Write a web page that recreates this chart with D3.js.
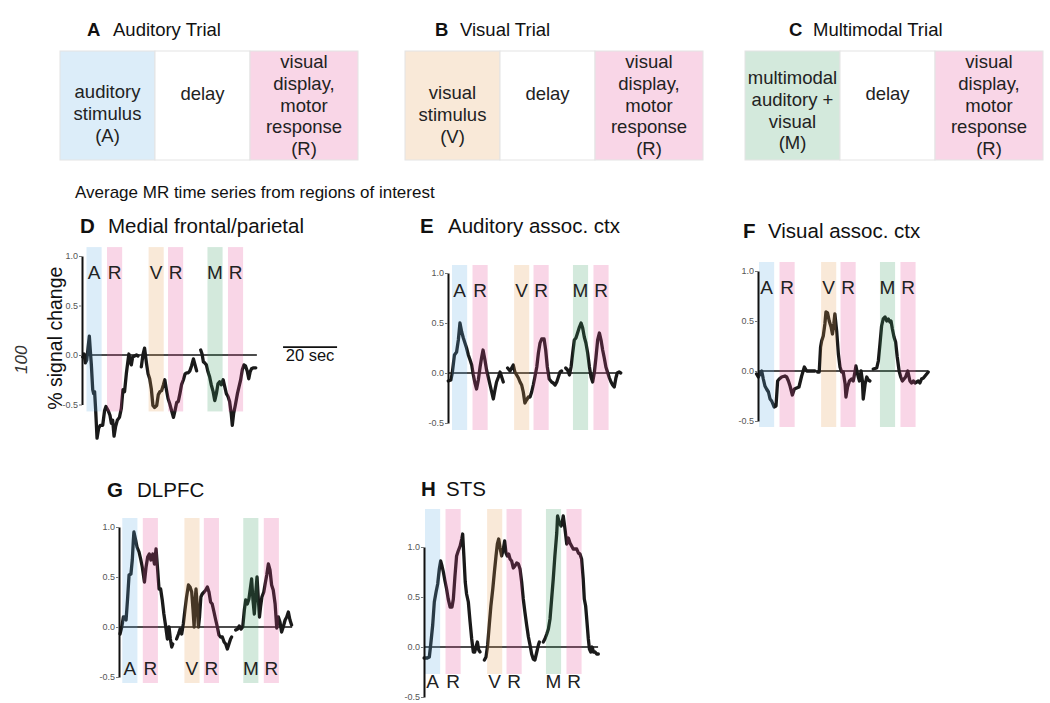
<!DOCTYPE html>
<html>
<head>
<meta charset="utf-8">
<script src="https://cdn.jsdelivr.net/npm/d3@7"></script>
<style>
  body { margin: 0; background: #fff; }
  text { font-family: "Liberation Sans", Arial, Helvetica, sans-serif; }
</style>
</head>
<body>
<script>
// trial diagrams (A-C)
const trialLetters = ["A", "B", "C"]
const trialNames = ["Auditory Trial", "Visual Trial", "Multimodal Trial"]
const trialBoxKinds = [["aud", "delay", "resp"], ["vis", "delay", "resp"], ["multi", "delay", "resp"]]
const trialBoxLines = [
  [["auditory", "stimulus", "(A)"], ["delay"], ["visual", "display,", "motor", "response", "(R)"]],
  [["visual", "stimulus", "(V)"], ["delay"], ["visual", "display,", "motor", "response", "(R)"]],
  [["multimodal", "auditory +", "visual", "(M)"], ["delay"], ["visual", "display,", "motor", "response", "(R)"]]
]

// event bands, seconds from auditory onset
const bandLabels = ["A", "R", "V", "R", "M", "R"]
const bandKinds = ["aud", "resp", "vis", "resp", "multi", "resp"]
const bandOnsets = [0, 7.6, 23, 30.2, 44.8, 52.4]
const bandDuration = 5.6
const yTicks = [-0.5, 0, 0.5, 1.0]

// time series [sec, % signal change], one array per trial
const medialFrontalParietal = [
  [[-1.4,-0.02],[-0.9,0.01],[-0.4,-0.08],[0.1,-0.05],[0.6,0.08],[1.05,0.19],[1.4,0.05],[1.8,-0.10],[2.3,-0.35],[2.65,-0.39],[3.0,-0.37],[3.4,-0.56],[3.9,-0.84],[4.5,-0.74],[5.1,-0.71],[6.0,-0.71],[6.7,-0.56],[7.2,-0.52],[8.0,-0.56],[8.7,-0.61],[9.2,-0.69],[9.7,-0.66],[10.2,-0.82],[10.8,-0.72],[11.4,-0.66],[12.2,-0.63],[12.9,-0.54],[13.5,-0.35],[14.1,-0.37],[14.75,-0.19],[15.4,-0.05],[15.7,0.01],[16.2,-0.07],[16.6,-0.10],[17.1,-0.02],[17.8,-0.01],[18.5,0],[19.1,-0.01]],
  [[20.3,-0.12],[20.9,0.0],[21.5,0.07],[22.2,-0.08],[22.8,-0.19],[23.4,-0.24],[24.0,-0.34],[24.6,-0.51],[25.2,-0.53],[26.0,-0.51],[26.6,-0.40],[27.2,-0.37],[27.8,-0.36],[28.5,-0.30],[29.0,-0.25],[29.6,-0.35],[30.2,-0.44],[30.8,-0.49],[31.4,-0.55],[32.2,-0.63],[32.8,-0.56],[33.4,-0.48],[34.0,-0.47],[34.6,-0.39],[35.2,-0.30],[35.9,-0.25],[36.5,-0.19],[37.1,-0.18],[37.7,-0.18],[38.3,-0.16],[38.9,-0.11],[39.6,-0.04],[40.2,-0.10],[40.8,-0.16]],
  [[42.3,0.05],[42.8,0.01],[43.3,-0.07],[43.8,-0.08],[44.4,-0.10],[45.0,-0.17],[45.6,-0.22],[46.2,-0.30],[46.9,-0.37],[47.5,-0.46],[48.1,-0.39],[48.7,-0.29],[49.3,-0.27],[49.9,-0.30],[50.6,-0.25],[51.2,-0.32],[51.8,-0.39],[52.4,-0.42],[53.0,-0.47],[53.6,-0.59],[54.0,-0.71],[54.5,-0.59],[55.1,-0.51],[55.9,-0.39],[56.5,-0.32],[57.1,-0.25],[57.7,-0.15],[58.3,-0.10],[58.9,-0.11],[59.6,-0.17],[60.1,-0.24],[60.6,-0.17],[61.1,-0.14],[61.9,-0.13],[62.7,-0.13]]
]
const auditoryAssoc = [
  [[-1.4,-0.08],[-0.4,-0.07],[0.1,0.0],[0.9,0.18],[1.7,0.21],[2.35,0.33],[2.95,0.50],[3.6,0.41],[4.2,0.35],[4.8,0.30],[5.4,0.25],[6.05,0.18],[6.7,0.13],[7.3,0.08],[7.9,-0.02],[8.5,-0.10],[9.1,-0.16],[9.75,-0.07],[10.4,0.06],[11.0,0.16],[11.5,0.23],[12.2,0.13],[12.8,0.03],[13.5,-0.05],[14.1,-0.12],[14.7,-0.19],[15.3,-0.26],[15.9,-0.17],[16.5,-0.09],[17.2,-0.04],[17.8,0.01],[18.4,-0.04],[19.0,-0.09]],
  [[20.6,0.05],[21.5,0.02],[22.1,0.05],[22.7,0.08],[23.3,0.01],[23.95,-0.02],[24.6,-0.05],[25.2,-0.09],[25.8,-0.12],[26.4,-0.19],[27.0,-0.30],[27.6,-0.27],[28.3,-0.24],[28.9,-0.24],[29.5,-0.19],[30.1,-0.12],[30.7,-0.04],[31.4,0.06],[32.0,0.20],[32.6,0.30],[33.2,0.34],[34.1,0.34],[34.7,0.23],[35.3,0.06],[36.0,-0.06],[36.9,-0.09],[37.5,-0.10],[38.2,-0.12],[38.8,-0.09],[39.4,-0.04],[40.0,0.01],[40.6,0.02]],
  [[42.1,0.05],[42.8,0.03],[43.5,-0.02],[44.1,0.06],[44.7,0.20],[45.3,0.33],[45.9,0.35],[46.5,0.40],[47.2,0.46],[47.8,0.50],[48.4,0.45],[49.0,0.36],[49.6,0.30],[50.25,0.20],[50.9,0.06],[51.5,-0.04],[52.1,-0.09],[52.7,0.0],[53.3,0.15],[53.95,0.33],[54.6,0.40],[55.2,0.33],[55.8,0.23],[56.4,0.15],[57.0,0.06],[57.7,0.0],[58.3,-0.05],[58.9,-0.09],[59.5,-0.12],[60.1,-0.14],[60.7,-0.05],[61.2,0.0],[61.9,0.01],[62.5,0.0]]
]
const visualAssoc = [
  [[-0.9,-0.03],[-0.25,-0.06],[0.4,-0.02],[1.0,0.0],[1.6,-0.08],[2.2,-0.15],[2.8,-0.18],[3.5,-0.21],[4.1,-0.28],[4.7,-0.30],[5.6,-0.36],[6.3,-0.35],[6.9,-0.10],[7.5,-0.08],[8.4,-0.06],[9.6,-0.05],[10.25,-0.06],[10.9,-0.10],[11.5,-0.15],[12.35,-0.24],[13.1,-0.18],[13.95,-0.17],[14.8,-0.16],[15.8,-0.05],[16.8,0.04],[17.65,0.0],[18.5,0.0],[19.5,0.0],[20.7,0.0]],
  [[21.7,-0.01],[22.3,-0.01],[22.8,0.24],[23.2,0.30],[23.8,0.35],[24.4,0.47],[24.8,0.59],[25.4,0.58],[26.0,0.50],[26.7,0.44],[27.2,0.37],[27.7,0.47],[28.1,0.57],[28.8,0.39],[29.4,0.17],[30.0,0.04],[30.6,-0.01],[31.2,-0.01],[31.9,-0.13],[32.2,-0.26],[32.8,-0.16],[33.5,-0.10],[34.3,-0.08],[34.9,-0.10],[35.6,0.0],[35.9,0.05],[36.5,-0.03],[37.2,-0.10],[37.8,0.0],[38.3,-0.10],[38.6,-0.28],[39.3,-0.13],[39.9,-0.06],[40.5,-0.09],[41.1,-0.10]],
  [[42.3,0.02],[43.6,0.03],[44.2,0.10],[44.8,0.27],[45.4,0.45],[46.0,0.52],[46.7,0.54],[47.3,0.50],[47.9,0.52],[48.5,0.49],[48.9,0.50],[49.4,0.42],[50.0,0.34],[50.6,0.29],[51.2,0.14],[51.9,0.0],[52.5,-0.06],[53.1,-0.10],[53.7,-0.08],[54.3,-0.06],[55.1,0.0],[55.9,-0.10],[56.5,-0.12],[57.2,-0.10],[57.8,-0.12],[58.4,-0.11],[59.0,-0.10],[59.6,-0.12],[60.2,-0.08],[60.9,-0.07],[61.5,-0.05],[62.1,-0.03],[62.7,-0.01]]
]
const dlpfc = [
  [[-0.85,-0.07],[-0.2,0.0],[0.4,0.10],[1.0,0.10],[1.4,0.07],[2.0,0.30],[2.5,0.52],[3.2,0.53],[3.7,0.67],[4.1,0.87],[4.3,0.95],[4.95,0.87],[5.45,0.80],[6.2,0.75],[6.8,0.68],[7.4,0.60],[8.2,0.45],[8.8,0.60],[9.4,0.70],[10.0,0.73],[10.6,0.67],[11.3,0.73],[11.9,0.63],[12.5,0.78],[13.1,0.57],[13.6,0.38],[14.2,0.38],[14.8,0.27],[15.4,0.13],[16.1,0.0],[16.7,-0.12],[17.3,0.0],[17.8,-0.12],[18.3,-0.20],[18.7,-0.17]],
  [[20.1,-0.12],[20.8,-0.07],[21.4,-0.02],[22.0,-0.07],[22.6,0.03],[23.2,0.17],[23.8,0.30],[24.5,0.42],[25.1,0.40],[25.7,0.35],[26.2,0.17],[26.6,0.0],[26.9,0.23],[27.3,0.38],[27.7,0.23],[28.2,0.0],[28.6,0.10],[29.1,0.30],[29.6,0.33],[30.3,0.35],[30.9,0.37],[31.5,0.40],[32.1,0.35],[32.7,0.25],[33.3,0.23],[33.96,0.15],[34.6,0.07],[35.2,0.0],[35.8,-0.08],[36.4,-0.10],[37.05,-0.10],[37.7,-0.15],[38.3,-0.17],[38.9,-0.22],[39.5,-0.17],[40.1,-0.12],[40.5,-0.10]],
  [[42.0,-0.03],[42.7,-0.02],[43.3,0.01],[44.0,-0.02],[44.6,0.0],[45.2,0.17],[45.7,0.27],[46.3,0.23],[46.9,0.28],[47.5,0.40],[47.9,0.48],[48.4,0.27],[48.9,0.13],[49.4,0.33],[49.9,0.50],[50.4,0.27],[50.8,0.10],[51.2,0.20],[51.7,0.30],[52.4,0.35],[52.9,0.43],[53.5,0.52],[54.1,0.63],[54.7,0.57],[55.3,0.42],[55.9,0.37],[56.6,0.23],[57.2,-0.01],[57.8,0.10],[58.4,0.05],[59.0,-0.05],[59.6,0.0],[60.3,0.07],[60.9,0.10],[61.5,0.15],[62.1,0.07],[62.7,0.02]]
]
const sts = [
  [[-0.35,-0.11],[0.86,-0.11],[1.6,-0.10],[2.1,0.02],[2.85,0.22],[3.45,0.45],[4.1,0.55],[4.7,0.63],[5.3,0.78],[5.8,0.86],[6.3,0.81],[6.8,0.75],[7.4,0.66],[8.0,0.58],[8.6,0.48],[9.3,0.40],[10.0,0.40],[10.5,0.48],[11.1,0.71],[11.7,0.91],[12.3,0.96],[13.0,1.01],[13.6,1.08],[13.95,1.13],[14.4,0.91],[14.9,0.65],[15.4,0.53],[16.05,0.45],[16.7,0.25],[17.3,0.08],[17.9,-0.05],[18.4,-0.05],[18.9,0.0],[19.4,0.05],[19.9,-0.03],[20.4,-0.05]],
  [[22.0,-0.13],[22.6,-0.10],[23.2,0.02],[23.8,0.22],[24.4,0.41],[25.1,0.58],[25.7,0.75],[26.3,0.91],[26.8,1.03],[27.3,1.08],[27.8,0.99],[28.4,0.91],[29.0,0.98],[29.5,1.06],[30.0,0.94],[30.5,0.91],[31.0,0.93],[31.5,0.88],[32.1,0.86],[32.7,0.79],[33.3,0.81],[33.95,0.84],[34.6,0.83],[35.2,0.78],[35.8,0.65],[36.4,0.48],[37.0,0.35],[37.65,0.22],[38.3,0.10],[38.9,0.02],[39.5,-0.07],[40.1,-0.12],[40.7,-0.13],[41.4,-0.05],[42.0,0.02],[42.35,0.05]],
  [[43.8,0.05],[44.4,0.08],[45.1,0.13],[45.7,0.18],[46.3,0.28],[46.9,0.48],[47.5,0.68],[48.1,0.91],[48.8,1.14],[49.1,1.31],[49.75,1.24],[50.4,1.21],[50.9,1.26],[51.2,1.31],[51.85,1.18],[52.5,1.03],[53.1,1.09],[53.7,1.04],[54.3,1.01],[54.9,0.98],[55.6,0.98],[56.2,0.98],[56.8,0.94],[57.4,0.93],[58.0,0.88],[58.6,0.68],[59.0,0.48],[59.5,0.41],[59.9,0.28],[60.5,0.08],[60.9,-0.02],[61.4,-0.05],[61.9,0.0],[62.4,-0.05],[63.0,-0.05],[63.6,-0.07],[64.2,-0.07]]
]

// ---- layout / style ----
const width = 1050, height = 703
const pale = { aud: "#dcedf9", vis: "#f9e9d8", resp: "#f9d6e7", multi: "#d3e9dc", delay: "#ffffff" }
const bandAlpha = 0.22
// colour that gives the pale tint over white at bandAlpha, so the trace gets tinted underneath
const overlay = k => {
  const c = d3.rgb(pale[k])
  const f = v => Math.max(0, Math.min(255, 255 - (255 - v) / bandAlpha))
  return d3.rgb(f(c.r), f(c.g), f(c.b)).formatHex()
}
const secPx = 2.7

const trialLayout = [
  { x: 60, letterX: 87, nameX: 113, firstLine: [98, 100, 68] },
  { x: 405, letterX: 435, nameX: 460, firstLine: [99, 100, 68] },
  { x: 745, letterX: 789, nameX: 813, firstLine: [84, 100, 68] }
]
const boxWidths = [95, 95, 108]

const panels = [
  { letter: "D", title: "Medial frontal/parietal", series: medialFrontalParietal, axisX: 82, onsetX: 86.5, zeroY: 355, unit: 99, zeroEnd: 63.1, titleX: 80, titleY: 233, textX: 108, labelV: 0.77, bandV: [-0.57, 1.09] },
  { letter: "E", title: "Auditory assoc. ctx", series: auditoryAssoc, axisX: 448, onsetX: 452, zeroY: 373, unit: 100, zeroEnd: 63, titleX: 420, titleY: 233, textX: 448, labelV: 0.76, bandV: [-0.57, 1.08] },
  { letter: "F", title: "Visual assoc. ctx", series: visualAssoc, axisX: 758, onsetX: 759, zeroY: 371, unit: 100, zeroEnd: 62.6, titleX: 743, titleY: 238, textX: 768, labelV: 0.77, bandV: [-0.56, 1.09] },
  { letter: "G", title: "DLPFC", series: dlpfc, axisX: 119, onsetX: 122.3, zeroY: 627, unit: 100, zeroEnd: 62.9, titleX: 107, titleY: 497, textX: 137, labelV: -0.48, bandV: [-0.56, 1.09] },
  { letter: "H", title: "STS", series: sts, axisX: 424, onsetX: 425, zeroY: 647, unit: 100, zeroEnd: 64.1, titleX: 421, titleY: 496, textX: 446, labelV: -0.41, bandV: [-0.27, 1.38] }
]

const svg = d3.select("body").append("svg")
  .attr("width", width)
  .attr("height", height)
  .style("background", "#fff")

// ---- trial diagrams ----
trialLetters.forEach((letter, i) => {
  const L = trialLayout[i]
  const g = svg.append("g")
  g.append("text").attr("x", L.letterX).attr("y", 36)
    .attr("font-size", 18.5).attr("font-weight", "bold").attr("fill", "#111").text(letter)
  g.append("text").attr("x", L.nameX).attr("y", 36)
    .attr("font-size", 18.5).attr("fill", "#111").text(trialNames[i])

  let bx = L.x
  trialBoxKinds[i].forEach((kind, j) => {
    const w = boxWidths[j]
    g.append("rect")
      .attr("x", bx).attr("y", 51).attr("width", w).attr("height", 109)
      .attr("fill", pale[kind])
      .attr("stroke", "#e4e4e4").attr("stroke-width", 1)
    g.append("text")
      .attr("text-anchor", "middle")
      .attr("font-size", 18.5)
      .attr("fill", "#222")
      .selectAll("tspan")
      .data(trialBoxLines[i][j])
      .join("tspan")
        .attr("x", bx + w / 2)
        .attr("y", (d, k) => L.firstLine[j] + k * 21.8)
        .text(d => d)
    bx += w
  })
})

svg.append("text").attr("x", 75).attr("y", 198)
  .attr("font-size", 17).attr("fill", "#111")
  .text("Average MR time series from regions of interest")

// ---- ROI time series ----
const line = d3.line()

panels.forEach(p => {
  const x = d3.scaleLinear().domain([0, 10]).range([p.onsetX, p.onsetX + 10 * secPx])
  const y = d3.scaleLinear().domain([-0.5, 1]).range([p.zeroY + 0.5 * p.unit, p.zeroY - p.unit])
  const g = svg.append("g")

  g.append("text").attr("x", p.titleX).attr("y", p.titleY)
    .attr("font-size", 20.5).attr("font-weight", "bold").attr("fill", "#111").text(p.letter)
  g.append("text").attr("x", p.textX).attr("y", p.titleY)
    .attr("font-size", 20.5).attr("fill", "#111").text(p.title)

  // zero line
  g.append("line")
    .attr("x1", p.axisX).attr("x2", x(p.zeroEnd))
    .attr("y1", y(0)).attr("y2", y(0))
    .attr("stroke", "#111").attr("stroke-width", 1.6)

  // trace
  g.append("g")
    .attr("fill", "none")
    .attr("stroke", "#1a1a1a")
    .attr("stroke-width", 3.3)
    .attr("stroke-linejoin", "round")
    .attr("stroke-linecap", "round")
    .selectAll("path")
    .data(p.series)
    .join("path")
      .attr("d", seg => line.x(d => x(d[0])).y(d => y(d[1]))(seg))

  // event bands on top, semi-transparent
  g.append("g")
    .selectAll("rect")
    .data(bandOnsets)
    .join("rect")
      .attr("x", d => x(d))
      .attr("width", d => x(d + bandDuration) - x(d))
      .attr("y", y(p.bandV[1]))
      .attr("height", y(p.bandV[0]) - y(p.bandV[1]))
      .attr("fill", (d, i) => overlay(bandKinds[i]))
      .attr("fill-opacity", bandAlpha)

  g.append("g")
    .attr("font-size", 19)
    .attr("fill", "#222")
    .attr("text-anchor", "middle")
    .selectAll("text")
    .data(bandOnsets)
    .join("text")
      .attr("x", d => x(d + bandDuration / 2))
      .attr("y", y(p.labelV))
      .text((d, i) => bandLabels[i])

  // y axis
  const ax = g.append("g")
    .attr("transform", `translate(${p.axisX},0)`)
    .call(d3.axisLeft(y).tickValues(yTicks).tickFormat(d => d.toFixed(1))
      .tickSize(3).tickSizeOuter(0).tickPadding(1))
  ax.select(".domain").attr("stroke", "#111").attr("stroke-width", 2)
  ax.selectAll(".tick line").attr("stroke", "#777")
  ax.selectAll(".tick text")
    .attr("fill", "#555").attr("font-size", 9)
    .attr("font-family", "\"Liberation Sans\", Arial, sans-serif")

  if (p.letter === "D") {
    g.append("text")
      .attr("transform", `translate(62,${y(0.17)}) rotate(-90)`)
      .attr("text-anchor", "middle")
      .attr("font-size", 19.5).attr("fill", "#111")
      .text("% signal change")

    // 20 sec scale bar
    const barStart = 72.8
    g.append("line")
      .attr("x1", x(barStart)).attr("x2", x(barStart + 20))
      .attr("y1", y(0.08)).attr("y2", y(0.08))
      .attr("stroke", "#111").attr("stroke-width", 1.6)
    g.append("text")
      .attr("x", x(barStart + 10)).attr("y", y(-0.06))
      .attr("text-anchor", "middle")
      .attr("font-size", 16.5).attr("fill", "#111")
      .text("20 sec")
  }
})

// stray page label at left margin
svg.append("text")
  .attr("transform", "translate(27,374) rotate(-90)")
  .attr("font-family", "\"Liberation Serif\", \"DejaVu Serif\", serif")
  .attr("font-style", "italic")
  .attr("font-size", 17)
  .attr("fill", "#333")
  .text("100")
</script>
</body>
</html>
